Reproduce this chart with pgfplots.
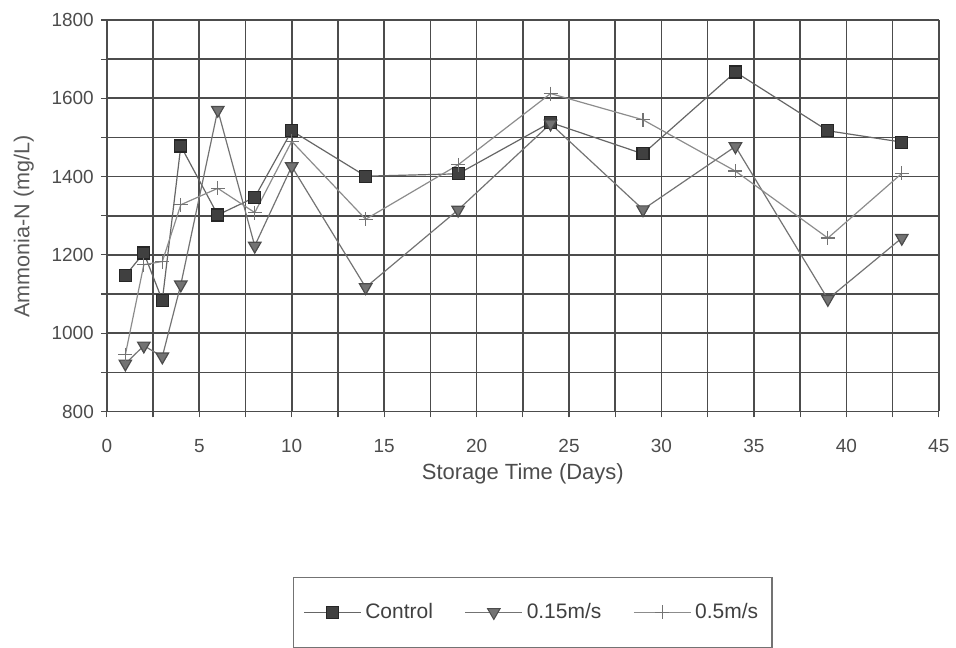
\documentclass[border=0pt]{standalone}
\usepackage{pgfplots}
\pgfplotsset{compat=1.18}
\usepackage{fontspec}
\setmainfont{Liberation Sans}

% Ammonia-N over storage time, three air velocities
\pgfplotstableread{
day control v015 v05
1   1147   922   945
2   1205   968  1175
3   1084   940  1183
4   1478  1124  1328
6   1302  1570  1370
8   1347  1223  1308
10  1517  1426  1490
14  1401  1117  1291
19  1407  1315  1430
24  1538  1535  1612
29  1458  1316  1545
34  1667  1477  1414
39  1517  1087  1243
43  1488  1243  1408
}\ammonia

\begin{document}
\begin{tikzpicture}
\begin{axis}[
  scale only axis,
  width=416.5pt, height=196pt,
  xmin=0, xmax=45, ymin=800, ymax=1800,
  xtick={0,5,...,45}, minor xtick={2.5,7.5,...,42.5},
  ytick={800,1000,...,1800}, minor ytick={900,1100,...,1700},
  grid=both,
  major grid style={black!70, line width=0.8pt},
  minor grid style={black!70, line width=0.8pt},
  axis line style={black!70, line width=0.8pt},
  tick align=outside,
  major tick length=3pt, minor tick length=3pt,
  tick style={black!70, line width=0.6pt},
  axis x line*=bottom, axis y line*=left,
  every tick label/.append style={font=\fontsize{9.5}{11}\selectfont, text=black!70},
  xticklabel style={yshift=-7.5pt},
  /pgf/number format/assume math mode=true,
  /pgf/number format/1000 sep={},
  xlabel={Storage Time (Days)},
  ylabel={Ammonia-N (mg/L)},
  xlabel style={font=\fontsize{11}{13}\selectfont, text=black!70, yshift=1.5pt},
  ylabel style={font=\fontsize{10.8}{13}\selectfont, text=black!65, yshift=2pt, xshift=-5.5pt},
  legend columns=3,
  legend style={at={(axis description cs:0.512,-0.513)}, anchor=center,
    draw=black!55, line width=0.6pt,
    font=\fontsize{10.5}{12}\selectfont, text=black!75,
    inner xsep=5pt, inner ysep=11pt,
    /tikz/every even column/.append style={column sep=14pt}},
  legend image code/.code={%
    \draw[mark repeat=2, mark phase=2]
      plot coordinates {(0cm,0cm) (0.5cm,0cm) (1cm,0cm)};},
  legend image post style={line width=0.5pt},
]
\addplot[black!60, line width=0.6pt, mark=square*, mark size=3pt,
  mark options={draw=black!85, fill=black!75, solid}]
  table[x=day, y=control] {\ammonia};
\addlegendentry{Control}
\addplot[black!55, line width=0.6pt, mark=triangle*, mark size=3.6pt,
  mark options={rotate=180, draw=black!70, fill=black!55, solid}]
  table[x=day, y=v015] {\ammonia};
\addlegendentry{0.15m/s}
\addplot[black!45, line width=0.6pt, mark=+, mark size=3.5pt,
  mark options={draw=black!55, solid}]
  table[x=day, y=v05] {\ammonia};
\addlegendentry{0.5m/s}
\end{axis}
\path[use as bounding box] (-53.5pt,-116.5pt) rectangle (424.5pt,206pt);
\end{tikzpicture}
\end{document}
